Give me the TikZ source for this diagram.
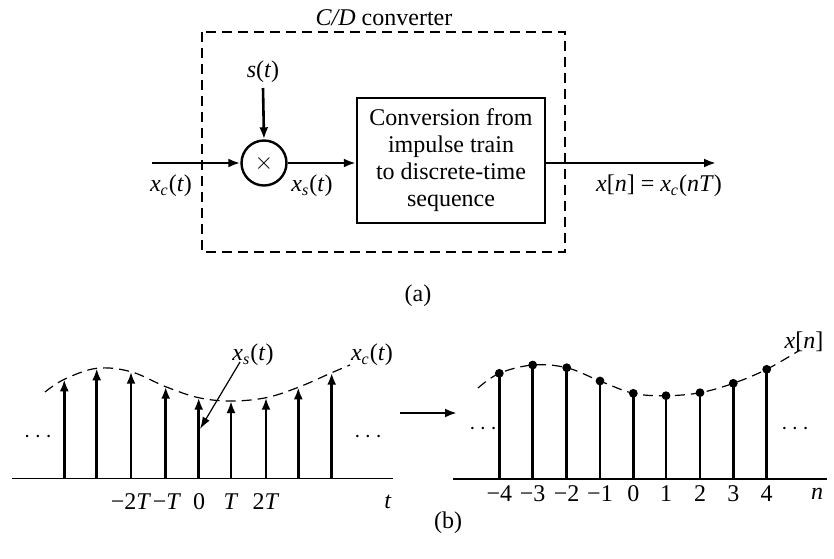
\documentclass[tikz,border=0pt]{standalone}
\usepackage{fontspec}
\setmainfont{Liberation Serif}
\usetikzlibrary{arrows.meta}
\newcommand\vi[1]{\textit{#1}}
\newcommand\sbs[1]{\textsubscript{\textit{#1}}}
\begin{document}
\begin{tikzpicture}[x=0.5pt,y=-0.5pt,
  font=\fontsize{12}{13.5}\selectfont,
  sig/.style={line width=1.3pt},
  arr/.style={sig,-{Latex[length=6pt,width=4.5pt]}},
  dsh/.style={line width=0.6pt,dash pattern=on 5pt off 3pt},
  lbl/.style={inner sep=0pt},
  stemdot/.style={circle,fill,inner sep=0pt,minimum size=4.4pt}]
\useasboundingbox (0,0) rectangle (834,558);
% ---------- (a) ----------
\node[lbl] (title) at (384,18) {\vi{C/D} converter};
\draw[dsh] (202,32) rectangle (565,252);
\node[draw,circle,line width=1.2pt,minimum size=22.5pt,inner sep=0pt] (mul) at (264,163) {$\times$};
\node[draw,line width=1.2pt,minimum width=94pt,minimum height=62.5pt,align=center,inner sep=0pt] (conv) at (451,160.5)
  {Conversion from\\impulse train\\to discrete-time\\sequence};
\coordinate (in) at (152,163);
\coordinate (stop) at (263,88);
\coordinate (out) at (716,163);
\node[lbl] (st) at (263,72) {\vi{s}(\vi{t})};
\draw[arr] (stop) -- (mul.north);
\draw[arr] (in) -- (mul.west);
\draw[arr] (mul.east) -- (mul.east -| conv.west);
\draw[arr] (conv.east |- out) -- (out);
\node[lbl] (xc) at (171,186) {\vi{x}\sbs{c}(\vi{t})};
\node[lbl] (xs) at (312,186) {\vi{x}\sbs{s}(\vi{t})};
\node[lbl] (xn) at (659,186) {\vi{x}[\vi{n}] = \vi{x}\sbs{c}(\vi{nT})};
\node[lbl] (la) at (418,296) {(a)};
% ---------- (b) left ----------
\draw[line width=0.8pt] (12,478.5) -- (393,478.5);
\foreach \x/\y in {64.3/379.3, 96.7/368.3, 131/371.7, 165.7/386.7, 198.7/397.7, 231/401, 266/397.7, 298.3/387.3, 331.7/372.7}
  \draw[sig,-{Latex[length=6pt,width=4.5pt]}] (\x,478.5) -- (\x,\y);
\draw[dsh] plot[smooth,tension=0.6] coordinates {(45,392) (64.3,379.3) (96.7,368.3) (131,371.7) (165.7,386.7) (198.7,397.7) (231,401) (266,397.7) (298.3,387.3) (331.7,372.7) (350,365)};
\node[lbl] (xsl) at (253,355) {\vi{x}\sbs{s}(\vi{t})};
\node[lbl] (xcl) at (372,355) {\vi{x}\sbs{c}(\vi{t})};
\coordinate (xsa) at (240,362);
\coordinate (xsb) at (200,429);
\draw[line width=0.6pt,-{Latex[length=6pt,width=4pt]}] (xsa) -- (xsb);
\node[lbl] (dl1) at (38,437) {$\cdots$};
\node[lbl] (dl2) at (368,437) {$\cdots$};
\node[lbl] at (131,502) {−2\vi{T}};
\node[lbl] at (167,502) {−\vi{T}};
\node[lbl] at (199,502) {0};
\node[lbl] at (231,502) {\vi{T}};
\node[lbl] at (266,502) {2\vi{T}};
\node[lbl] (tl) at (388,502) {\vi{t}};
% arrow between
\coordinate (ma) at (400,413);
\coordinate (mb) at (457,413);
\draw[arr] (ma) -- (mb);
% ---------- (b) right ----------
\draw[line width=0.8pt] (453,479) -- (827,479);
\draw[dsh] plot[smooth,tension=0.6] coordinates {(478,388) (499.3,373.3) (532.7,365) (566.7,367.7) (600,381) (633.3,393.3) (666,395.7) (700,392.7) (733.3,383.3) (766.7,369.3) (800,350)};
\foreach \x/\y/\n in {499.3/373.3/−4, 532.7/365/−3, 566.7/367.7/−2, 600/381/−1, 633.3/393.3/0, 666/395.7/1, 700/392.7/2, 733.3/383.3/3, 766.7/369.3/4}{
  \draw[sig] (\x,479) -- (\x,\y);
  \node[stemdot] at (\x,\y) {};
  \node[lbl] at (\x,493.5) {\n};
}
\node[lbl] (xnl) at (804,342) {\vi{x}[\vi{n}]};
\node[lbl] (nl) at (817,493.5) {\vi{n}};
\node[lbl] (dr1) at (483,429) {$\cdots$};
\node[lbl] (dr2) at (795,429) {$\cdots$};
\node[lbl] (lb) at (448,523) {(b)};
\end{tikzpicture}
\end{document}
